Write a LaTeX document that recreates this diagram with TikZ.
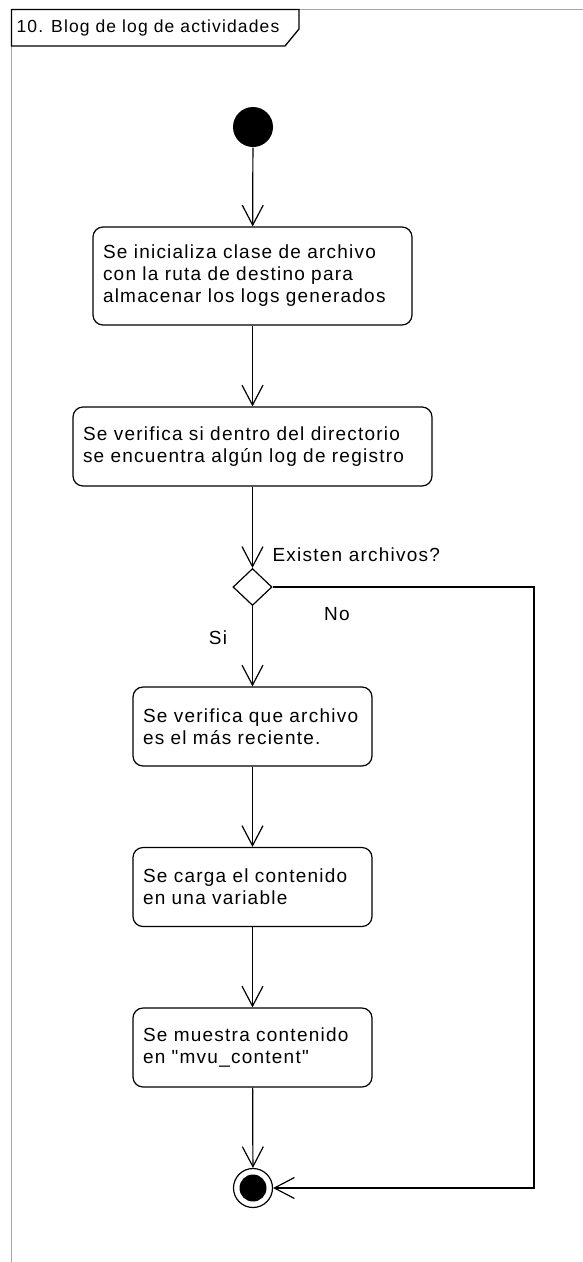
\documentclass[tikz,border=0pt]{standalone}
\usepackage{fontspec}
\setmainfont{Liberation Sans}
\newfontfamily\diafont[LetterSpace=6.5]{Liberation Sans}
\usetikzlibrary{arrows.meta,shapes.geometric}
\begin{document}
\begin{tikzpicture}[
x=1pt, y=-1pt,
every node/.style={font=\diafont\fontsize{19}{22}\selectfont},
actbox/.style={draw, rounded corners=10pt, align=left, inner xsep=10pt, inner ysep=0pt, minimum height=79pt},
flow/.style={-{Straight Barb[length=20pt,width=21pt]}},
line width=1.2pt
]
\useasboundingbox (0,0) rectangle (583,1262);
\draw[gray!70, line width=1.5pt] (583,9.5) -- (11.5,9.5) -- (11.5,1262);
\draw[line width=1.3pt] (11.5,9.5) -- (299,9.5) -- (299,29) -- (285,46) -- (11.5,46) -- cycle;
\node[anchor=west, inner sep=0pt, font=\diafont\fontsize{17.5}{22}\selectfont] (title) at (16,28) {10. Blog de log de actividades};

\node[circle, fill, inner sep=0pt, minimum size=40pt] (ini) at (253,127) {};
\node[actbox, text width=299pt, minimum height=98pt] (init) at (252.5,276)
  {Se inicializa clase de archivo\\con la ruta de destino para\\almacenar los logs generados};
\node[actbox, text width=339pt] (check) at (252.5,446.5)
  {Se verifica si dentro del directorio\\se encuentra algún log de registro};
\node[diamond, draw, inner sep=0pt, minimum width=39pt, minimum height=37pt] (dec) at (252.5,587) {};
\node[actbox, text width=219pt] (recent) at (252.5,726.5)
  {Se verifica que archivo\\es el más reciente.};
\node[actbox, text width=219pt] (load) at (252.5,887)
  {Se carga el contenido\\en una variable};
\node[actbox, text width=219pt] (show) at (252.5,1047.5)
  {Se muestra contenido\\en "mvu\_content"};
\node[circle, draw, inner sep=0pt, minimum size=39pt] (fin) at (253,1188) {};
\node[circle, fill, inner sep=0pt, minimum size=27pt] (finin) at (fin) {};
\coordinate (turn) at (534,587);

\node[anchor=west, inner sep=0pt] (q) at (272,555) {Existen archivos?};
\node[inner sep=0pt] (no) at (337,614) {No};
\node[inner sep=0pt] (si) at (218,638) {Si};

\draw[flow] (ini) -- (init);
\draw[flow] (init) -- (check);
\draw[flow] (check) -- (dec);
\draw[flow] (dec) -- (recent);
\draw[flow] (recent) -- (load);
\draw[flow] (load) -- (show);
\draw[flow] (show) -- (fin);
\draw[flow] (dec.east) -- (turn) |- (fin.east);
\end{tikzpicture}
\end{document}
